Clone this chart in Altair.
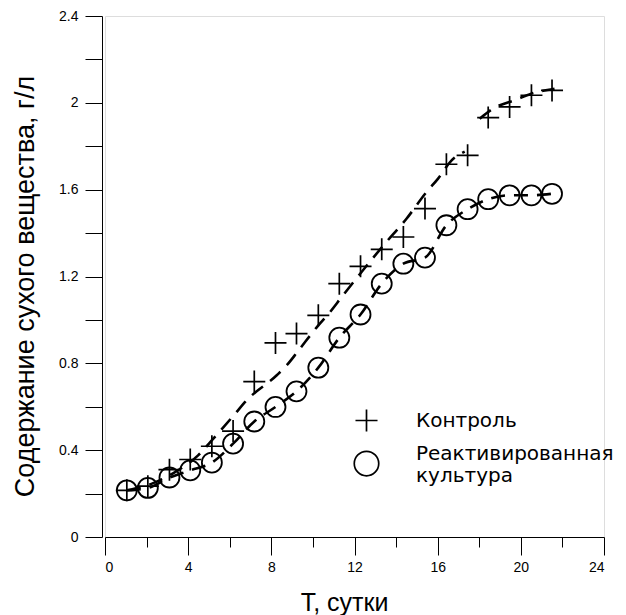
import altair as alt
import pandas as pd

# ---- data ----
days = [1.05, 2.06, 3.10, 4.10, 5.14, 6.16, 7.18, 8.20, 9.21, 10.26, 11.27,
        12.29, 13.31, 14.35, 15.39, 16.42, 17.44, 18.43, 19.46, 20.51, 21.50]
control = [0.215, 0.234, 0.310, 0.357, 0.418, 0.488, 0.716, 0.894, 0.937, 1.021, 1.167,
           1.247, 1.325, 1.382, 1.513, 1.717, 1.758, 1.932, 1.981, 2.035, 2.057]
reactivated = [0.215, 0.226, 0.274, 0.307, 0.343, 0.430, 0.532, 0.599, 0.671, 0.780, 0.918,
               1.025, 1.167, 1.259, 1.287, 1.436, 1.510, 1.556, 1.574, 1.574, 1.581]

# fitted dashed curve for the control series (two pieces)
fit1_x = [1.06, 2.26, 3.37, 4.49, 5.21, 6.26, 6.82, 8.26, 8.74, 9.29, 10.25, 10.82,
          11.38, 12.34, 13.46, 14.50, 15.46, 16.02, 16.66, 17.30]
fit1_y = [0.215, 0.246, 0.299, 0.377, 0.453, 0.568, 0.630, 0.745, 0.791, 0.857, 0.974, 1.036,
          1.105, 1.221, 1.351, 1.466, 1.589, 1.651, 1.734, 1.775]
fit2_x = [18.02, 18.66, 19.78, 20.50, 21.62]
fit2_y = [1.927, 1.973, 2.015, 2.042, 2.065]

series_names = ["Контроль", "Реактивированная культура"]

FONT = "Liberation Sans"
LEGEND_FONT = "DejaVu Sans"

pts = pd.DataFrame(
    [{"day": d, "value": v, "series": series_names[0]} for d, v in zip(days, control)]
    + [{"day": d, "value": v, "series": series_names[1]} for d, v in zip(days, reactivated)]
)
ctrl_pts = pd.DataFrame({"day": days, "value": control})
react_pts = pd.DataFrame({"day": days, "value": reactivated})
fit = pd.DataFrame(
    [{"day": d, "value": v, "seg": "a"} for d, v in zip(fit1_x, fit1_y)]
    + [{"day": d, "value": v, "seg": "b"} for d, v in zip(fit2_x, fit2_y)]
)

x_ticks = list(range(0, 25, 2))
y_ticks = [0, 0.2, 0.4, 0.6, 0.8, 1.0, 1.2, 1.4, 1.6, 1.8, 2.0, 2.2, 2.4]

x_scale = alt.Scale(domain=[0, 24], nice=False, zero=False)
y_scale = alt.Scale(domain=[0, 2.4], nice=False)

x_axis = alt.Axis(
    values=x_ticks,
    labelExpr="datum.value % 4 === 0 ? datum.label : ''",
    tickSize={"condition": {"test": "datum.value % 4 === 0", "value": 18}, "value": 10},
    grid=False,
    domainColor="black",
    tickColor="black",
    labelColor="black",
    labelFont=FONT,
    labelFontSize=14,
    labelPadding=5,
    title="Т, сутки",
    titleFont=FONT,
    titleFontSize=25,
    titleFontWeight="normal",
    titleColor="black",
    titleBaseline="alphabetic",
    titleY=73,
    titleX=239,
)
y_axis = alt.Axis(
    values=y_ticks,
    labelExpr="round(datum.value*10) % 4 === 0 ? format(datum.value, '~g') : ''",
    tickSize=17,
    offset=3,
    grid=False,
    domainColor="black",
    tickColor="black",
    labelColor="black",
    labelFont=FONT,
    labelFontSize=14,
    labelPadding=7,
    title="Содержание сухого вещества, г/л",
    titleFont=FONT,
    titleFontSize=27,
    titleFontWeight="normal",
    titleColor="black",
    titleBaseline="alphabetic",
    titleX=-69,
    titleY=270,
)

cross_path = "M-1,0L1,0M0,-1L0,1"
legend_cross = "M-0.9,0L0.9,0M0,-0.9L0,0.9"
# circle drawn a little lower so that it sits between the two label lines
legend_circle = "M-1,0.82A1,1 0 1,0 1,0.82A1,1 0 1,0 -1,0.82Z"

dash = [14, 9]

fit_layer = alt.Chart(fit).mark_line(
    color="black", strokeWidth=2.6, strokeDash=dash, interpolate="monotone"
).encode(
    x=alt.X("day:Q", scale=x_scale, axis=x_axis),
    y=alt.Y("value:Q", scale=y_scale, axis=y_axis),
    detail="seg:N",
)

react_line = alt.Chart(react_pts).mark_line(
    color="black", strokeWidth=2.6, strokeDash=dash, interpolate="monotone"
).encode(
    x=alt.X("day:Q", scale=x_scale),
    y=alt.Y("value:Q", scale=y_scale),
)

ctrl_marks = alt.Chart(ctrl_pts).mark_point(
    shape=cross_path, filled=False, color="black", strokeWidth=1.7, size=484, opacity=1
).encode(
    x=alt.X("day:Q", scale=x_scale),
    y=alt.Y("value:Q", scale=y_scale),
)

react_marks = alt.Chart(react_pts).mark_point(
    shape="circle", filled=False, color="black", strokeWidth=1.8, size=400, opacity=1
).encode(
    x=alt.X("day:Q", scale=x_scale),
    y=alt.Y("value:Q", scale=y_scale),
)

legend_layer = alt.Chart(pts).mark_point(
    filled=False, color="black", strokeWidth=1.7, size=10, opacity=0
).encode(
    x=alt.X("day:Q", scale=x_scale),
    y=alt.Y("value:Q", scale=y_scale),
    shape=alt.Shape(
        "series:N",
        scale=alt.Scale(domain=series_names, range=[legend_cross, legend_circle]),
        legend=alt.Legend(
            title=None,
            orient="none",
            legendX=248,
            legendY=391,
            padding=0,
            symbolSize=600,
            symbolStrokeWidth=1.7,
            symbolStrokeColor="black",
            symbolFillColor="transparent",
            symbolOpacity=1,
            labelFont=LEGEND_FONT,
            labelFontSize=20,
            labelColor="black",
            labelOpacity=1,
            labelOffset=36,
            labelLimit=400,
            rowPadding=5,
            labelExpr="datum.label == 'Реактивированная культура' ? ['Реактивированная', '\u00a0культура'] : datum.label",
        ),
    ),
)

chart = alt.layer(fit_layer, react_line, react_marks, ctrl_marks, legend_layer).properties(
    width=499,
    height=521,
    autosize=alt.AutoSizeParams(type="none"),
    padding={"left": 97, "top": 8, "right": 10, "bottom": 80},
).configure_view(stroke=None).configure(background="white")

chart.save("out.html", embed_options={"renderer": "svg", "actions": False})
